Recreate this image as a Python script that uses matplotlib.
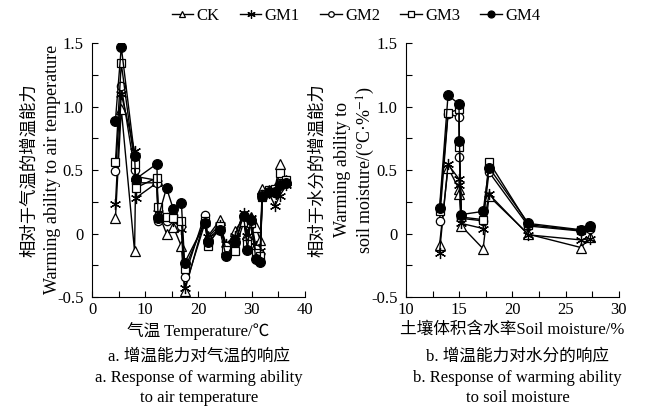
import matplotlib
matplotlib.use("Agg")
import matplotlib.pyplot as plt
from matplotlib.ticker import MultipleLocator, FuncFormatter

plt.rcParams['font.family'] = ['Liberation Serif', 'Noto Sans CJK SC']
plt.rcParams['mathtext.fontset'] = 'stix'

series_names = ["CK", "GM1", "GM2", "GM3", "GM4"]

# air temperature (left panel)
air_temp = [4.4, 5.5, 8.0, 8.2, 12.2, 12.4, 14.0, 15.3, 16.8, 17.4, 21.2, 21.8, 24.0,
            25.2, 26.8, 28.5, 29.2, 29.8, 30.8, 31.6, 32.0, 33.2, 34.4, 35.3, 36.5]
air_ck = [0.12, 0.98, -0.14, 0.45, 0.42, 0.17, 0.00, 0.05, -0.10, -0.455, 0.12, -0.02, 0.105,
          -0.12, 0.02, 0.12, 0.00, 0.13, 0.05, -0.05, 0.35, 0.34, 0.36, 0.55, 0.42]
air_gm1 = [0.23, 1.10, 0.65, 0.28, 0.40, 0.16, 0.12, 0.10, 0.04, -0.43, 0.08, -0.03, 0.07,
           -0.08, -0.02, 0.16, -0.02, 0.12, -0.10, -0.14, 0.30, 0.32, 0.22, 0.30, 0.38]
air_gm2 = [0.49, 1.16, 0.50, 0.40, 0.40, 0.10, 0.10, 0.15, 0.06, -0.34, 0.15, -0.05, 0.05,
           -0.10, -0.08, 0.12, -0.05, 0.10, -0.12, -0.16, 0.31, 0.33, 0.32, 0.40, 0.40]
air_gm3 = [0.56, 1.34, 0.55, 0.36, 0.44, 0.21, 0.13, 0.12, 0.10, -0.28, 0.10, -0.10, 0.06,
           -0.13, -0.14, 0.09, -0.08, 0.08, -0.15, -0.18, 0.29, 0.34, 0.35, 0.48, 0.42]
air_gm4 = [0.89, 1.47, 0.61, 0.43, 0.55, 0.12, 0.36, 0.19, 0.24, -0.23, 0.08, -0.07, 0.03,
           -0.18, -0.07, 0.14, -0.13, 0.11, -0.20, -0.22, 0.30, 0.33, 0.33, 0.38, 0.40]

# soil moisture (right panel)
soil_moist = [13.15, 13.95, 14.98, 15.02, 15.2, 17.25, 17.8, 21.5, 26.45, 27.25]
soil_ck = [-0.09, 0.52, 0.35, 0.31, 0.06, -0.12, 0.295, -0.005, -0.11, -0.03]
soil_gm1 = [-0.15, 0.545, 0.43, 0.38, 0.08, 0.04, 0.31, -0.01, -0.05, -0.04]
soil_gm2 = [0.10, 0.94, 0.92, 0.60, 0.12, 0.10, 0.485, 0.06, 0.02, 0.04]
soil_gm3 = [0.18, 0.95, 0.98, 0.68, 0.13, 0.11, 0.565, 0.07, 0.025, 0.05]
soil_gm4 = [0.20, 1.09, 1.02, 0.73, 0.15, 0.175, 0.52, 0.08, 0.03, 0.06]

styles = {
    "CK": dict(marker="^", mfc="white", ms=7),
    "GM1": dict(marker=(6, 2, 0), mfc="black", ms=8),
    "GM2": dict(marker="o", mfc="white", ms=6),
    "GM3": dict(marker="s", mfc="white", ms=6),
    "GM4": dict(marker="o", mfc="black", ms=7),
}

fig = plt.figure(figsize=(6.47, 4.19), dpi=100)
ax1 = fig.add_axes([0.1422, 0.291, 0.329, 0.606])
ax2 = fig.add_axes([0.6275, 0.291, 0.329, 0.606])

air_vals = [air_ck, air_gm1, air_gm2, air_gm3, air_gm4]
soil_vals = [soil_ck, soil_gm1, soil_gm2, soil_gm3, soil_gm4]

for name, a, s in zip(series_names, air_vals, soil_vals):
    st = styles[name]
    ax1.plot(air_temp, a, color="black", lw=1.0, marker=st["marker"],
             mfc=st["mfc"], mec="black", ms=st["ms"], mew=0.9)
    ax2.plot(soil_moist, s, color="black", lw=1.0, marker=st["marker"],
             mfc=st["mfc"], mec="black", ms=st["ms"], mew=0.9)

fmt = FuncFormatter(lambda v, p: "0" if abs(v) < 1e-9 else f"{v:.1f}")

for ax in (ax1, ax2):
    ax.set_ylim(-0.5, 1.5)
    ax.yaxis.set_major_locator(MultipleLocator(0.5))
    ax.yaxis.set_minor_locator(MultipleLocator(0.25))
    ax.yaxis.set_major_formatter(fmt)
    ax.spines['top'].set_visible(False)
    ax.spines['right'].set_visible(False)
    ax.tick_params(which="both", direction="in", length=4, width=0.8, labelsize=12)
    ax.tick_params(axis="y", pad=6)

ax1.set_xlim(0, 40)
ax1.xaxis.set_major_locator(MultipleLocator(10))
ax1.xaxis.set_minor_locator(MultipleLocator(5))
ax2.set_xlim(10, 30)
ax2.xaxis.set_major_locator(MultipleLocator(5))
ax2.xaxis.set_minor_locator(MultipleLocator(2.5))

ax1.set_xlabel("气温 Temperature/℃", fontsize=12, labelpad=3)
ax2.set_xlabel("土壤体积含水率Soil moisture/%", fontsize=12, labelpad=3)

fig.text(0.046, 0.595, "相对于气温的增温能力", rotation=90, ha="center", va="center", fontsize=12.5)
fig.text(0.081, 0.595, "Warming ability to air temperature", rotation=90, ha="center",
         va="center", fontsize=13)
fig.text(0.491, 0.595, "相对于水分的增温能力", rotation=90, ha="center", va="center", fontsize=12.5)
fig.text(0.530, 0.595, "Warming ability to", rotation=90, ha="center", va="center", fontsize=13)
fig.text(0.566, 0.595, "soil moisture/(°C·%$^{-1}$)", rotation=90, ha="center", va="center",
         fontsize=13)

fig.text(0.307, 0.148, "a. 增温能力对气温的响应", ha="center", va="center", fontsize=12)
fig.text(0.307, 0.098, "a. Response of warming ability", ha="center", va="center", fontsize=12)
fig.text(0.307, 0.050, "to air temperature", ha="center", va="center", fontsize=12)
fig.text(0.800, 0.148, "b. 增温能力对水分的响应", ha="center", va="center", fontsize=12)
fig.text(0.800, 0.098, "b. Response of warming ability", ha="center", va="center", fontsize=12)
fig.text(0.800, 0.050, "to soil moisture", ha="center", va="center", fontsize=12)

leg_handles = []
for name in series_names:
    st = styles[name]
    lh, = ax1.plot([], [], color="black", lw=1.0, marker=st["marker"], mfc=st["mfc"],
                   mec="black", ms=st["ms"] - 2, mew=0.9)
    leg_handles.append(lh)
fig.legend(leg_handles, series_names, loc="center", bbox_to_anchor=(0.55, 0.962), ncol=5,
           frameon=False, fontsize=12, handlelength=1.3, handletextpad=0.2, columnspacing=1.2)

fig.savefig("out.png", dpi=100)
